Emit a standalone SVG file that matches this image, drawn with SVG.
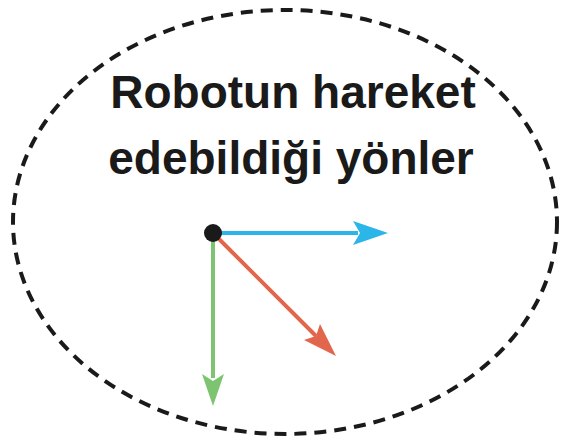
<svg xmlns="http://www.w3.org/2000/svg" width="570" height="442" viewBox="0 0 570 442">
<style>
.t{font-family:"Liberation Sans",Arial,sans-serif;font-weight:bold;font-size:46px;fill:#1a1a1a;text-anchor:middle}
</style>
<rect width="570" height="442" fill="#fff"/>
<g id="boundary">
<ellipse cx="285" cy="222" rx="272" ry="212" fill="none" stroke="#1a1a1a" stroke-width="4" stroke-dasharray="12 8"/>
</g>
<g id="title">
<text class="t" x="293" y="108">Robotun hareket</text>
<text class="t" x="291" y="174">edebildiği yönler</text>
</g>
<g id="connectors">
<line x1="213" y1="233" x2="358" y2="233" stroke="#2bb5e9" stroke-width="4"/>
<polygon points="388,233 353,221 360,233 353,245" fill="#2bb5e9"/>
<line x1="213" y1="233" x2="213" y2="378" stroke="#7cc46f" stroke-width="4"/>
<polygon points="213,406 202,374 213,381 224,374" fill="#7cc46f"/>
<line x1="213" y1="233" x2="316" y2="336" stroke="#e2664c" stroke-width="4"/>
<polygon points="336,356 304,340 316,336 320,324" fill="#e2664c"/>
</g>
<g id="origin">
<circle cx="213" cy="233" r="9" fill="#1a1a1a"/>
</g>
</svg>
